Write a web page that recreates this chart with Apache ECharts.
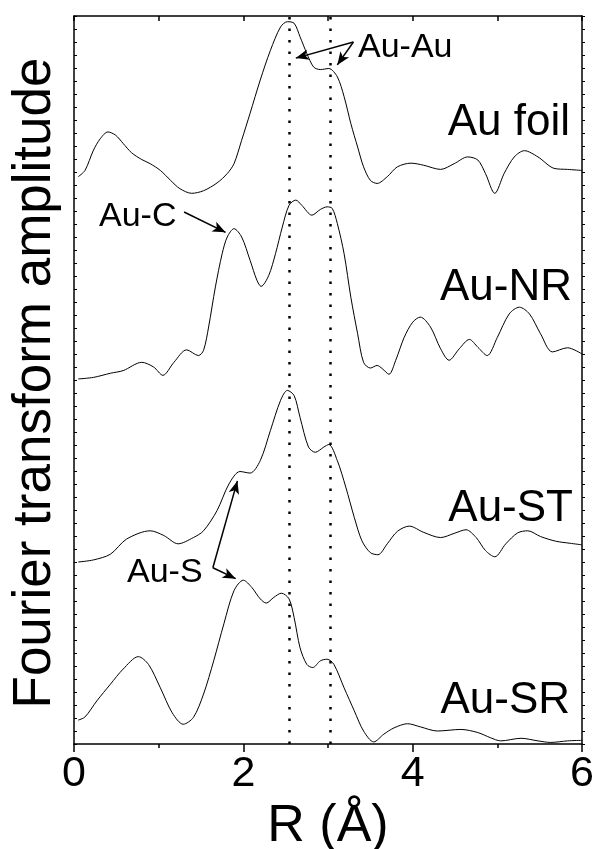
<!DOCTYPE html>
<html>
<head>
<meta charset="utf-8">
<script src="https://cdn.jsdelivr.net/npm/echarts@6/dist/echarts.min.js"></script>
<style>
html,body{margin:0;padding:0;background:#fff;}
#chart{width:596px;height:849px;}
</style>
</head>
<body>
<div id="chart"></div>
<script>
// R in angstrom, amplitude in arbitrary units (offset already included)
var foilR = [0.05,0.13,0.23,0.31,0.40,0.49,0.58,0.68,0.80,0.90,1.02,1.14,1.25,1.39,1.53,1.69,1.81,1.89,1.98,2.08,2.20,2.32,2.44,2.52,2.60,2.67,2.75,2.83,2.91,3.01,3.11,3.19,3.27,3.35,3.42,3.50,3.58,3.70,3.82,3.98,4.13,4.33,4.49,4.65,4.77,4.86,4.97,5.08,5.20,5.32,5.48,5.67,5.83,6.00];
var foilAmp = [10.91,11.03,11.42,11.64,11.77,11.71,11.55,11.37,11.24,11.16,11.03,10.84,10.68,10.59,10.64,10.79,10.97,11.16,11.61,12.13,12.77,13.34,13.79,13.89,13.86,13.60,13.28,13.02,12.97,12.99,12.83,12.45,11.93,11.48,11.10,10.84,10.78,10.91,11.10,11.17,11.13,11.05,11.16,11.29,11.23,10.97,10.59,10.97,11.29,11.41,11.29,11.07,11.05,11.03];

var nrR = [0.05,0.23,0.43,0.58,0.80,0.94,1.05,1.18,1.33,1.47,1.53,1.59,1.67,1.75,1.81,1.89,1.98,2.08,2.16,2.21,2.30,2.38,2.46,2.54,2.62,2.69,2.81,2.91,2.99,3.05,3.11,3.19,3.27,3.35,3.42,3.50,3.58,3.64,3.72,3.80,3.90,4.00,4.09,4.21,4.33,4.43,4.55,4.67,4.77,4.88,5.00,5.14,5.26,5.38,5.51,5.65,5.83,6.00];
var nrAmp = [7.02,7.05,7.13,7.18,7.34,7.25,7.09,7.34,7.58,7.47,7.57,8.02,8.79,9.43,9.75,9.91,9.75,9.30,8.92,8.80,9.01,9.43,9.94,10.36,10.46,10.36,10.17,10.28,10.33,10.30,10.01,9.43,8.59,7.89,7.34,7.23,7.28,7.22,7.11,7.38,7.82,8.11,8.21,8.02,7.60,7.38,7.60,7.78,7.63,7.47,7.82,8.27,8.40,8.27,7.89,7.54,7.62,7.50];

var stR = [0.05,0.23,0.43,0.62,0.90,1.06,1.23,1.41,1.53,1.69,1.83,1.96,2.08,2.20,2.32,2.44,2.52,2.60,2.67,2.77,2.85,2.95,3.01,3.11,3.21,3.31,3.40,3.50,3.59,3.70,3.82,3.96,4.13,4.33,4.49,4.63,4.75,4.86,4.97,5.10,5.24,5.36,5.51,5.69,5.86,6.00];
var stAmp = [3.50,3.54,3.65,3.94,4.10,4.01,3.85,3.97,4.10,4.49,5.00,5.24,5.21,5.45,6.03,6.61,6.80,6.70,6.28,5.71,5.61,5.71,5.76,5.45,4.94,4.36,3.91,3.68,3.64,3.85,4.09,4.19,4.07,3.97,4.05,4.12,3.97,3.72,3.60,3.85,4.06,4.10,3.99,3.90,3.86,3.83];

var srR = [0.05,0.13,0.27,0.43,0.58,0.76,0.88,1.02,1.16,1.29,1.41,1.53,1.65,1.77,1.89,2.00,2.10,2.20,2.27,2.36,2.45,2.54,2.60,2.67,2.75,2.82,2.91,2.99,3.07,3.19,3.31,3.42,3.54,3.66,3.78,3.94,4.09,4.29,4.57,4.77,4.92,5.04,5.28,5.48,5.63,5.83,6.00];
var srAmp = [0.46,0.52,0.83,1.15,1.44,1.68,1.53,1.08,0.60,0.38,0.51,0.96,1.60,2.31,2.95,3.15,3.01,2.79,2.71,2.82,2.90,2.79,2.43,1.85,1.53,1.47,1.60,1.63,1.53,1.08,0.64,0.25,0.04,0.19,0.31,0.39,0.33,0.25,0.28,0.22,0.12,0.06,0.11,0.06,0.03,0.06,0.07];

// Au-Au bond distances marked by dotted lines
var bondR = [2.54, 3.03];

// annotation arrows: [fromR, fromAmp, toR, toAmp]
var arrows = [
    [3.30, 13.50, 2.62, 13.19],
    [3.30, 13.50, 3.11, 13.06],
    [1.30, 10.23, 1.79, 9.84],
    [1.64, 3.39, 1.93, 5.06],
    [1.64, 3.39, 1.91, 3.18]
];

function pairs(xs, ys) {
    var out = [];
    for (var i = 0; i < xs.length; i++) out.push([xs[i], ys[i]]);
    return out;
}

var chart = echarts.init(document.getElementById('chart'));
var FONT = '"Liberation Sans", Arial, sans-serif';

var lineSeries = function(name, data) {
    return {
        type: 'line',
        name: name,
        data: data,
        showSymbol: false,
        smooth: 0.3,
        silent: true,
        lineStyle: { color: '#000', width: 1 },
        z: 3
    };
};

var series = [
    lineSeries('Au foil', pairs(foilR, foilAmp)),
    lineSeries('Au-NR', pairs(nrR, nrAmp)),
    lineSeries('Au-ST', pairs(stR, stAmp)),
    lineSeries('Au-SR', pairs(srR, srAmp))
];

series[0].markLine = {
    silent: true,
    symbol: 'none',
    animation: false,
    label: { show: false },
    lineStyle: { color: '#000', width: 2.5, type: [2.5, 9] },
    data: bondR.map(function(r) { return { xAxis: r }; })
};

series[1].markLine = {
    silent: true,
    animation: false,
    symbol: ['none', 'arrow'],
    symbolSize: [8, 13],
    label: { show: false },
    lineStyle: { color: '#000', width: 1.5, type: 'solid' },
    data: arrows.map(function(a) {
        return [{ coord: [a[0], a[1]] }, { coord: [a[2], a[3]] }];
    })
};

var option = {
    animation: false,
    backgroundColor: '#fff',
    grid: { left: 74, right: 14, top: 16, bottom: 105, containLabel: false, outerBoundsMode: 'none' },
    xAxis: [{
        type: 'value',
        position: 'bottom',
        min: 0, max: 6, interval: 2,
        axisLine: { onZero: false, lineStyle: { color: '#000', width: 1.5 } },
        axisTick: { inside: false, length: 8, lineStyle: { color: '#000', width: 1.5 } },
        minorTick: { show: true, splitNumber: 2, length: 4, lineStyle: { color: '#000', width: 1.5 } },
        splitLine: { show: false },
        axisLabel: { fontSize: 43, fontFamily: FONT, color: '#000', margin: 9 },
        name: 'R (Å)',
        nameLocation: 'middle',
        nameGap: 38,
        nameTextStyle: { fontSize: 52, fontFamily: FONT, color: '#000' }
    }, {
        type: 'value',
        position: 'top',
        min: 0, max: 6, interval: 1,
        axisLine: { onZero: false, lineStyle: { color: '#000', width: 1.5 } },
        axisTick: { inside: true, length: 5, lineStyle: { color: '#000', width: 1.5 } },
        splitLine: { show: false },
        axisLabel: { show: false }
    }],
    yAxis: [{
        type: 'value',
        position: 'left',
        min: 0, max: 14, interval: 0.25,
        axisLine: { show: true, onZero: false, lineStyle: { color: '#000', width: 1.5 } },
        axisTick: { show: true, inside: true, length: 3, lineStyle: { color: '#000', width: 1 } },
        splitLine: { show: false },
        axisLabel: { show: false }
    }, {
        type: 'value',
        position: 'right',
        min: 0, max: 14, interval: 0.25,
        axisLine: { show: true, onZero: false, lineStyle: { color: '#000', width: 1.5 } },
        axisTick: { show: true, inside: false, length: 3, lineStyle: { color: '#000', width: 1 } },
        splitLine: { show: false },
        axisLabel: { show: false }
    }],
    graphic: [
        { type: 'text', x: 35, y: 383, rotation: Math.PI / 2,
          style: { text: 'Fourier transform amplitude', font: '53px ' + FONT, fill: '#000', textAlign: 'center', textVerticalAlign: 'middle' } },
        { type: 'text', x: 570, y: 123, style: { text: 'Au foil', font: '44px ' + FONT, fill: '#000', textAlign: 'right', textVerticalAlign: 'middle' } },
        { type: 'text', x: 572, y: 288, style: { text: 'Au-NR', font: '44px ' + FONT, fill: '#000', textAlign: 'right', textVerticalAlign: 'middle' } },
        { type: 'text', x: 573, y: 509, style: { text: 'Au-ST', font: '44px ' + FONT, fill: '#000', textAlign: 'right', textVerticalAlign: 'middle' } },
        { type: 'text', x: 570, y: 701, style: { text: 'Au-SR', font: '44px ' + FONT, fill: '#000', textAlign: 'right', textVerticalAlign: 'middle' } },
        { type: 'text', x: 358, y: 48, style: { text: 'Au-Au', font: '34px ' + FONT, fill: '#000', textAlign: 'left', textVerticalAlign: 'middle' } },
        { type: 'text', x: 99, y: 217, style: { text: 'Au-C', font: '34px ' + FONT, fill: '#000', textAlign: 'left', textVerticalAlign: 'middle' } },
        { type: 'text', x: 127, y: 573, style: { text: 'Au-S', font: '34px ' + FONT, fill: '#000', textAlign: 'left', textVerticalAlign: 'middle' } }
    ],
    series: series
};

chart.setOption(option);
</script>
</body>
</html>
